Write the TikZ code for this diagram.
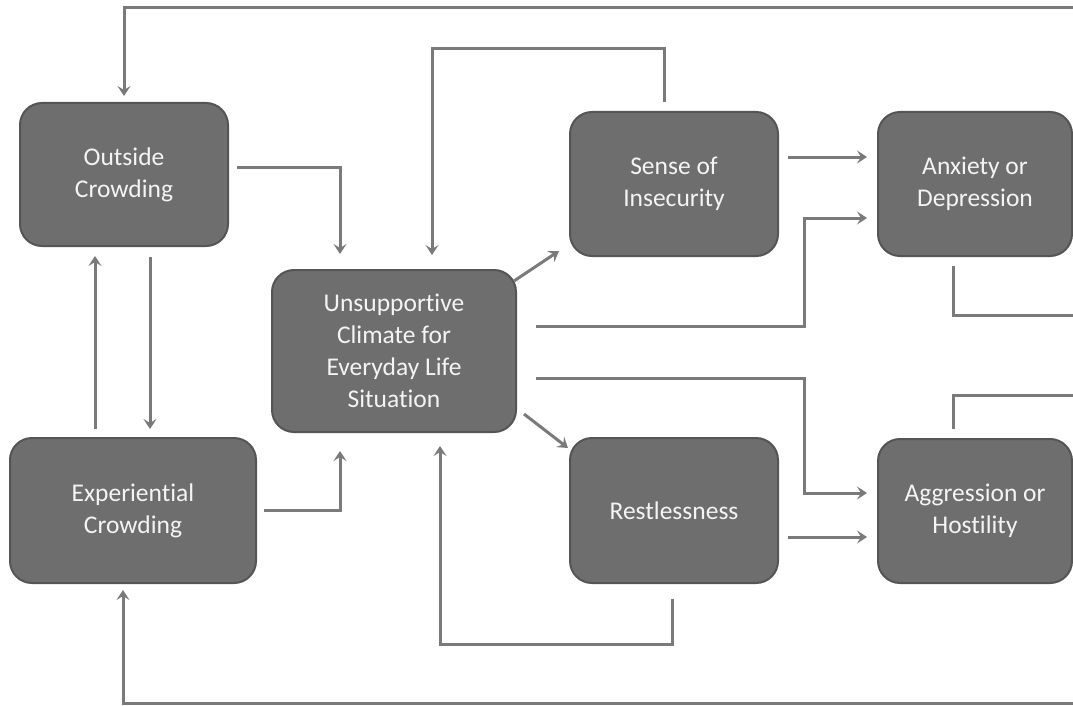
\documentclass[tikz,border=0pt]{standalone}
\usepackage{fontspec}
\setmainfont{Carlito}[Ligatures=CommonOff]
\usetikzlibrary{arrows.meta}
\definecolor{boxfill}{HTML}{6E6E6E}
\definecolor{boxline}{HTML}{555555}
\definecolor{conn}{HTML}{7A7A7A}
\definecolor{txt}{HTML}{F4F4F4}
\begin{document}
\begin{tikzpicture}[x=1pt,y=-1pt,
  box/.style={draw=boxline, line width=2pt, fill=boxfill, rounded corners=22pt,
    text=txt, align=center, inner sep=0pt,
    font=\fontsize{25.5}{32}\selectfont},
  arr/.style={draw=conn, line width=3pt, -{Stealth[length=10pt,width=13pt,inset=4pt]}},
  ln/.style={draw=conn, line width=3pt}
]
\useasboundingbox (0,0) rectangle (1073,706);

\node[box, minimum width=208pt, minimum height=143pt] (oc) at (124,174.5) {Outside\\Crowding};
\node[box, minimum width=246pt, minimum height=145pt] (ec) at (133,510.5) {Experiential\\Crowding};
\node[box, minimum width=244pt, minimum height=162pt] (uc) at (394,351) {Unsupportive\\Climate for\\Everyday Life\\Situation};
\node[box, minimum width=208pt, minimum height=144pt] (si) at (674,184) {Sense of\\Insecurity};
\node[box, minimum width=208pt, minimum height=145pt] (rs) at (674,510.5) {Restlessness};
\node[box, minimum width=194pt, minimum height=144pt] (ad) at (975,184) {Anxiety or\\Depression};
\node[box, minimum width=194pt, minimum height=144pt] (ag) at (975,511) {Aggression or\\Hostility};

\coordinate (tr) at (1073,8);
\coordinate (br) at (1073,703);
\coordinate (adr) at (1073,315);
\coordinate (agr) at (1073,395);

% outer loops
\draw[arr] (tr) -| ([yshift=6pt]oc.north);
\draw[arr] (br) -| ([xshift=-10pt,yshift=-6pt]ec.south);

% left column
\draw[arr] ([xshift=8pt,yshift=7.5pt]oc.east) -| ([xshift=-54pt,yshift=15pt]uc.north);
\draw[arr, shorten >=8pt] ([xshift=26pt,yshift=-10pt]oc.south) coordinate (p1) -- (p1 |- ec.north);
\draw[arr, shorten >=9pt] ([xshift=-38pt,yshift=8pt]ec.north) coordinate (p2) -- (p2 |- oc.south);
\draw[arr] ([xshift=7pt]ec.east) -| ([xshift=-54pt,yshift=-18pt]uc.south);

% feedback loops into climate
\draw[arr] ([xshift=-10pt,yshift=9pt]si.north) -- ++(0,-53) -| ([xshift=38pt,yshift=14pt]uc.north);
\draw[arr] ([xshift=-2pt,yshift=-15pt]rs.south) -- ++(0,45) -| ([xshift=46pt,yshift=-13pt]uc.south);

% climate outputs
\draw[arr] ([xshift=-3pt,yshift=-12pt]uc.north east) -- ([xshift=-10pt,yshift=6pt]si.south west);
\draw[arr] ([xshift=7pt,yshift=19pt]uc.south east) -- ([xshift=-1pt,yshift=-11pt]rs.north west);
\draw[arr] ([xshift=19pt,yshift=25pt]uc.east) -- ++(268,0) |- ([xshift=-10pt,yshift=-34pt]ad.west);
\draw[arr] ([xshift=19pt,yshift=-27pt]uc.east) -- ++(268,0) |- ([xshift=-10pt,yshift=18pt]ag.west);

% to right column
\draw[arr] ([xshift=9pt,yshift=27pt]si.east) -- ([xshift=-10pt,yshift=27pt]ad.west);
\draw[arr] ([xshift=9pt,yshift=-26.5pt]rs.east) -- ([xshift=-10pt,yshift=-26pt]ag.west);

% right column exits
\draw[ln] ([xshift=-22pt,yshift=-9pt]ad.south) |- (adr);
\draw[ln] ([xshift=-22pt,yshift=9pt]ag.north) |- (agr);
\end{tikzpicture}
\end{document}
